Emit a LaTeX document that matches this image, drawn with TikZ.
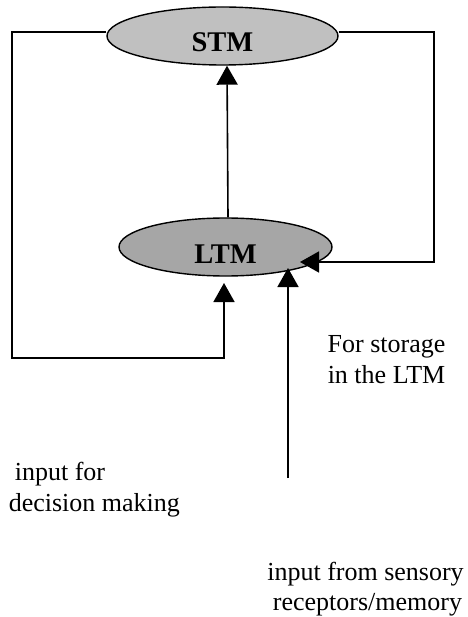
\documentclass[tikz,border=0pt]{standalone}
\usepackage{fontspec}
\setmainfont{Liberation Serif}
\usetikzlibrary{shapes.geometric,arrows.meta}
\definecolor{stmgray}{HTML}{C0C0C0}
\definecolor{ltmgray}{HTML}{A6A6A6}
\begin{document}
\begin{tikzpicture}[x=1pt,y=-1pt,
  line width=1.6pt,
  memnode/.style={ellipse,draw,line width=1.4pt,inner sep=0pt,
    text height=32pt,text depth=0pt,
    font=\fontsize{28.5}{32}\selectfont\bfseries},
  arr/.style={-{Triangle[length=19pt,width=21pt]}},
  lbl/.style={anchor=base,inner sep=0pt,font=\fontsize{26}{31}\selectfont}]
\useasboundingbox (0,0) rectangle (467,617);
\node[memnode,fill=stmgray,minimum width=231pt,minimum height=58pt] (stm) at (222.5,36) {STM};
\node[memnode,fill=ltmgray,minimum width=213pt,minimum height=58pt] (ltm) at (225.5,247) {LTM};
% left loop
\coordinate (tl) at (12,32);
\coordinate (bl) at (12,358);
\coordinate (bm) at (224,358);
\coordinate (a1) at (224,283);
\draw[arr,line join=miter] (stm.west |- tl) -- (tl) -- (bl) -- (bm) -- (a1);
% right loop
\coordinate (tr) at (434,32);
\coordinate (br) at (434,262);
\coordinate (a2) at (300,262);
\draw[arr,line join=miter] (stm.east |- tr) -- (tr) -- (br) -- (a2);
% LTM to STM
\draw[arr] (ltm.north -| 228,0) -- (stm.south -| 227,0);
% sensory input
\coordinate (in) at (288,478);
\coordinate (a3) at (288,268);
\draw[arr] (in) -- (a3);
% labels
\node[lbl] (s1) at (386.5,352) {For storage};
\node[lbl] (s2) at (386.5,383) {in the LTM};
\node[lbl,anchor=base west] (d1) at (14,480) {input for};
\node[lbl,anchor=base west] (d2) at (8,511) {decision making};
\node[lbl] (r1) at (365.5,580) {input from sensory};
\node[lbl] (r2) at (367.5,610) {receptors/memory};
\end{tikzpicture}
\end{document}
